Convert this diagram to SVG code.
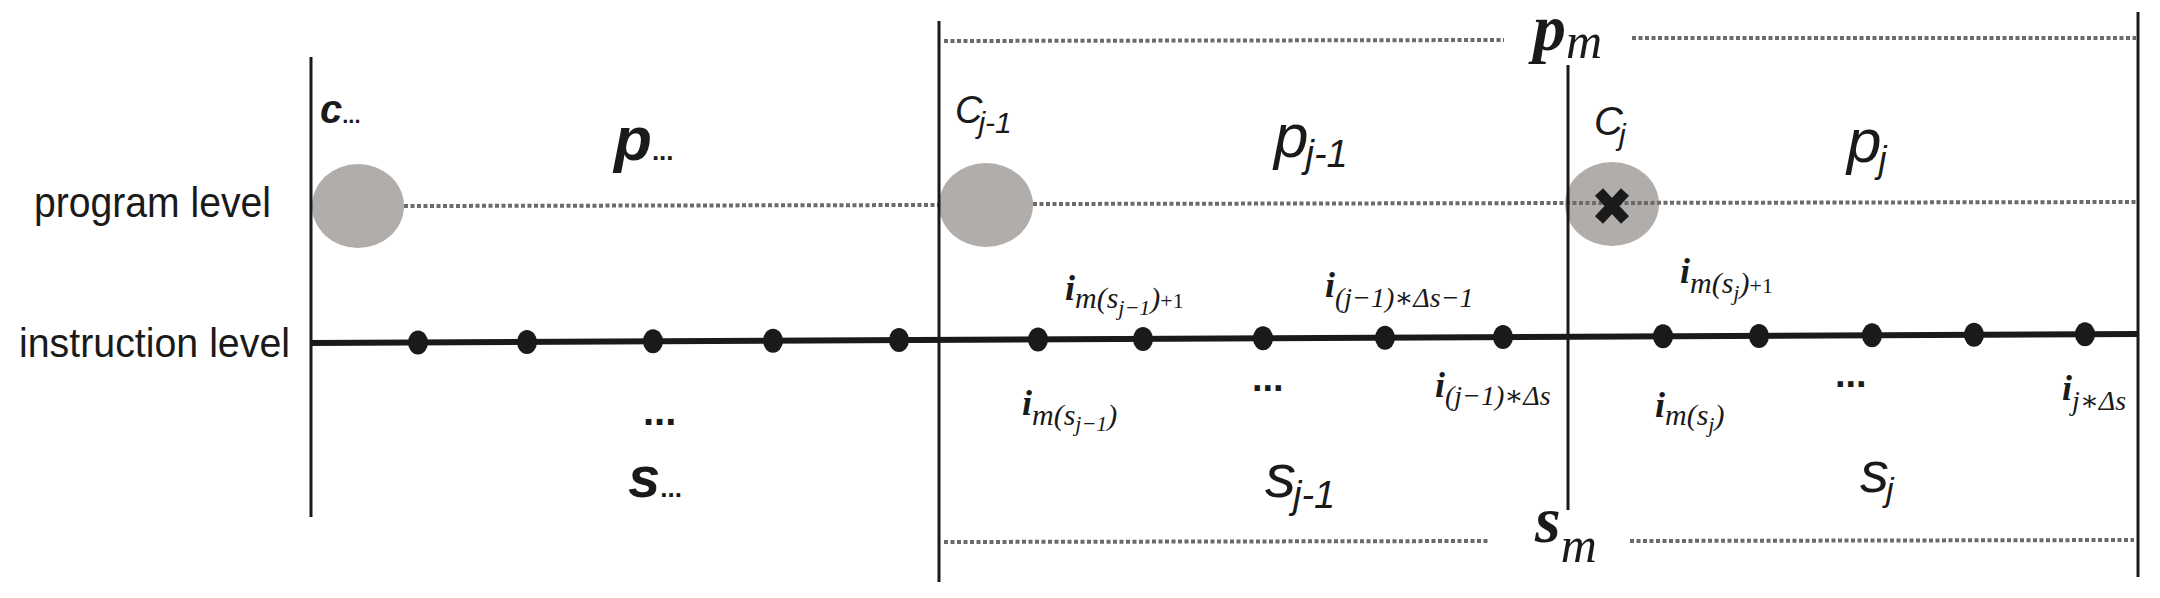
<svg xmlns="http://www.w3.org/2000/svg" width="2160" height="598" viewBox="0 0 2160 598">
<defs>
<style>
.bg{fill:#ffffff}
.vline{stroke:#1a1a1a;stroke-width:3;fill:none}
.dot-line{stroke:#6b6b6b;stroke-width:4;stroke-dasharray:4 2.5;fill:none}
.instr{stroke:#1a1a1a;stroke-width:6;fill:none}
.ckpt{fill:#b0adab}
.idot{fill:#1a1a1a}
.lvl{font-family:"Liberation Sans",Arial,sans-serif;fill:#1a1a1a}
.sans{font-family:"Liberation Sans",Arial,sans-serif;font-style:italic;fill:#1a1a1a}
.serif{font-family:"Liberation Serif","DejaVu Serif",serif;font-style:italic;fill:#1a1a1a}
.bold{font-weight:bold}
.ell{font-family:"Liberation Sans",Arial,sans-serif;font-weight:bold;fill:#1a1a1a}
</style>
</defs>
<rect class="bg" x="0" y="0" width="2160" height="598"/>

<g id="level-labels">
<text class="lvl" x="34" y="217" font-size="42" textLength="237" lengthAdjust="spacingAndGlyphs">program level</text>
<text class="lvl" x="19" y="357" font-size="41" textLength="271" lengthAdjust="spacingAndGlyphs">instruction level</text>
</g>

<g id="checkpoints">
<ellipse id="ckpt-prev" class="ckpt" cx="358" cy="206" rx="46" ry="42"/>
<ellipse id="ckpt-j-1" class="ckpt" cx="986" cy="205" rx="47" ry="42"/>
<ellipse id="ckpt-j" class="ckpt" cx="1612" cy="204" rx="47" ry="42"/>
</g>

<g id="connectors">
<line class="dot-line" x1="404" y1="206" x2="939" y2="205"/>
<line class="dot-line" x1="1033" y1="204" x2="2136" y2="202"/>
<line class="dot-line" x1="944" y1="41" x2="1504" y2="40"/>
<line class="dot-line" x1="1632" y1="38" x2="2136" y2="38"/>
<line class="dot-line" x1="944" y1="542" x2="1488" y2="541"/>
<line class="dot-line" x1="1630" y1="541" x2="2134" y2="540"/>
<line class="instr" x1="311" y1="343" x2="2138" y2="334"/>
<line class="vline" x1="311" y1="57" x2="311" y2="517"/>
<line class="vline" x1="939" y1="21" x2="939" y2="582"/>
<line class="vline" x1="1568" y1="65" x2="1568" y2="510"/>
<line class="vline" x1="2138" y1="12" x2="2138" y2="577"/>
</g>

<g id="fail-mark">
<path d="M1599,192 L1625,220 M1625,192 L1599,220" stroke="#1a1a1a" stroke-width="11" fill="none"/>
</g>

<g id="instructions">
<ellipse class="idot" cx="418" cy="342.5" rx="10" ry="12"/>
<ellipse class="idot" cx="527" cy="342" rx="10" ry="12"/>
<ellipse class="idot" cx="653" cy="341.3" rx="10" ry="12"/>
<ellipse class="idot" cx="773" cy="340.7" rx="10" ry="12"/>
<ellipse class="idot" cx="899" cy="340.1" rx="10" ry="12"/>
<ellipse class="idot" cx="1038" cy="339.4" rx="10" ry="12"/>
<ellipse class="idot" cx="1143" cy="338.9" rx="10" ry="12"/>
<ellipse class="idot" cx="1263" cy="338.3" rx="10" ry="12"/>
<ellipse class="idot" cx="1385" cy="337.7" rx="10" ry="12"/>
<ellipse class="idot" cx="1503" cy="337.1" rx="10" ry="12"/>
<ellipse class="idot" cx="1663" cy="336.3" rx="10" ry="12"/>
<ellipse class="idot" cx="1759" cy="335.9" rx="10" ry="12"/>
<ellipse class="idot" cx="1872" cy="335.3" rx="10" ry="12"/>
<ellipse class="idot" cx="1974" cy="334.8" rx="10" ry="12"/>
<ellipse class="idot" cx="2085" cy="334.3" rx="10" ry="12"/>
</g>

<g id="segment-prev">
<text class="sans bold" x="320" y="123" font-size="40">c<tspan font-size="22" font-style="normal">...</tspan></text>
<text class="sans bold" x="614" y="160" font-size="62">p<tspan font-size="26" font-style="normal">...</tspan></text>
<text class="ell" x="643" y="425" font-size="40">...</text>
<text class="sans bold" x="628" y="497" font-size="58">s<tspan font-size="26" font-style="normal">...</tspan></text>
</g>

<g id="segment-j-1">
<text class="sans" x="955" y="123" font-size="38">C<tspan dx="-4" dy="10" font-size="30">j-1</tspan></text>
<text class="sans" x="1274" y="157" font-size="62">p<tspan dx="-3" dy="10" font-size="38">j-1</tspan></text>
<text class="sans" x="1265" y="497" font-size="62">s<tspan dx="-3" dy="11" font-size="38">j-1</tspan></text>
<text class="ell" x="1252" y="391" font-size="38">...</text>
<text class="serif" x="1065" y="300" font-size="36"><tspan class="bold">i</tspan><tspan y="308" font-size="30">m(s</tspan><tspan y="315" font-size="22">j−1</tspan><tspan y="308" font-size="30">)</tspan><tspan y="308" font-size="22" font-style="normal">+1</tspan></text>
<text class="serif" x="1325" y="297" font-size="36"><tspan class="bold">i</tspan><tspan y="307" font-size="28">(j−1)∗Δs−1</tspan></text>
<text class="serif" x="1022" y="415" font-size="36"><tspan class="bold">i</tspan><tspan y="425" font-size="30">m(s</tspan><tspan y="431" font-size="22">j−1</tspan><tspan y="425" font-size="30">)</tspan></text>
<text class="serif" x="1435" y="397" font-size="36"><tspan class="bold">i</tspan><tspan y="405" font-size="28">(j−1)∗Δs</tspan></text>
</g>

<g id="segment-j">
<text class="sans" x="1594" y="135" font-size="40">C<tspan dx="-4" dy="10" font-size="30">j</tspan></text>
<text class="sans" x="1847" y="162" font-size="62">p<tspan dx="-3" dy="10" font-size="36">j</tspan></text>
<text class="sans" x="1860" y="492" font-size="58">s<tspan dx="-3" dy="9" font-size="34">j</tspan></text>
<text class="ell" x="1835" y="387" font-size="38">...</text>
<text class="serif" x="1680" y="283" font-size="36"><tspan class="bold">i</tspan><tspan y="293" font-size="30">m(s</tspan><tspan y="300" font-size="22">j</tspan><tspan y="293" font-size="30">)</tspan><tspan y="293" font-size="22" font-style="normal">+1</tspan></text>
<text class="serif" x="1655" y="417" font-size="36"><tspan class="bold">i</tspan><tspan y="425" font-size="30">m(s</tspan><tspan y="432" font-size="22">j</tspan><tspan y="425" font-size="30">)</tspan></text>
<text class="serif" x="2062" y="400" font-size="36"><tspan class="bold">i</tspan><tspan y="410" font-size="28">j∗Δs</tspan></text>
</g>

<g id="merged-labels">
<text class="serif" x="1533" y="50" font-size="66"><tspan class="bold">p</tspan><tspan y="58" font-size="50">m</tspan></text>
<text class="serif" x="1535" y="542" font-size="66"><tspan class="bold">s</tspan><tspan y="562" font-size="50">m</tspan></text>
</g>
</svg>
